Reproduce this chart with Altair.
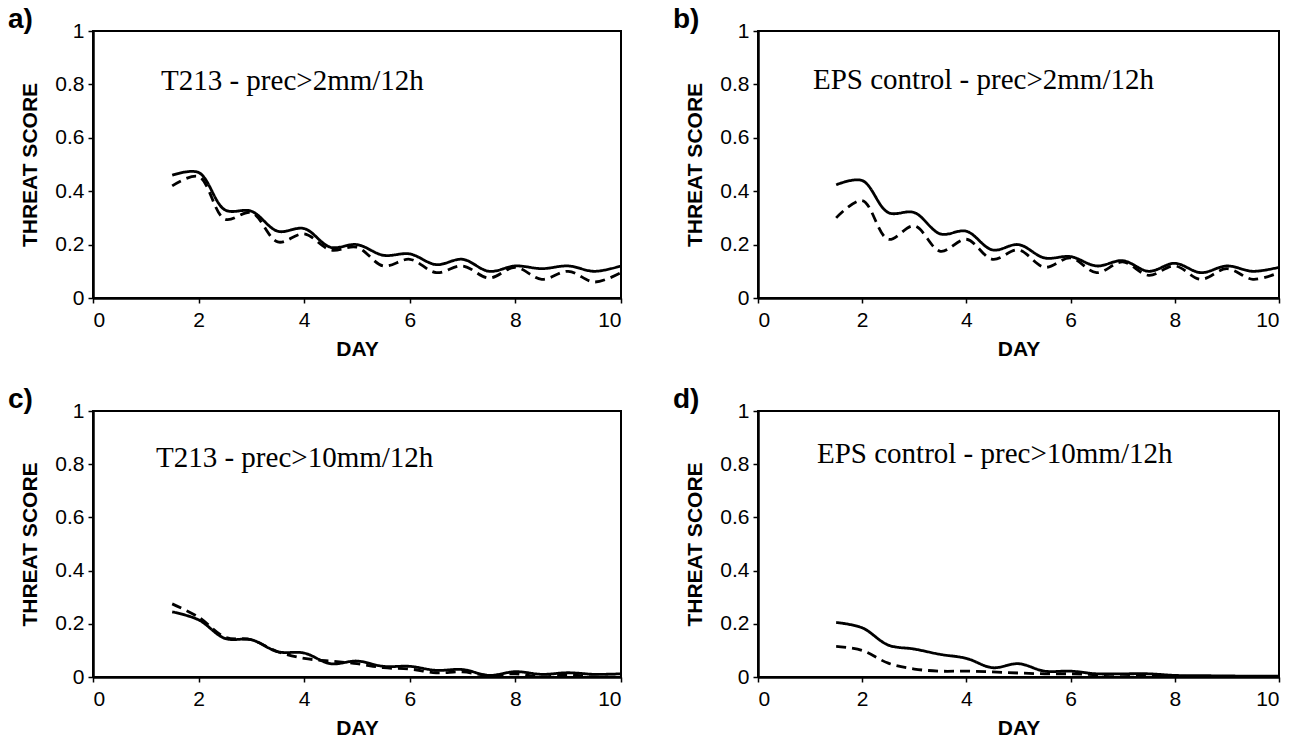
import altair as alt
import pandas as pd

# ---- data ----
days = [1.5, 2.0, 2.5, 3.0, 3.5, 4.0, 4.5, 5.0, 5.5, 6.0, 6.5, 7.0, 7.5, 8.0, 8.5, 9.0, 9.5, 10.0]

a_solid = [0.46, 0.47, 0.33, 0.325, 0.25, 0.26, 0.19, 0.20, 0.16, 0.165, 0.125, 0.145, 0.10, 0.12, 0.11, 0.12, 0.10, 0.12]
a_dashed = [0.42, 0.455, 0.295, 0.32, 0.21, 0.24, 0.18, 0.19, 0.12, 0.145, 0.095, 0.12, 0.075, 0.115, 0.07, 0.10, 0.06, 0.095]

b_solid = [0.424, 0.44, 0.32, 0.32, 0.24, 0.25, 0.18, 0.20, 0.15, 0.155, 0.12, 0.14, 0.10, 0.13, 0.095, 0.12, 0.10, 0.115]
b_dashed = [0.30, 0.365, 0.22, 0.27, 0.175, 0.22, 0.145, 0.18, 0.115, 0.15, 0.095, 0.135, 0.085, 0.12, 0.07, 0.11, 0.07, 0.095]

c_solid = [0.245, 0.215, 0.145, 0.14, 0.095, 0.09, 0.05, 0.06, 0.04, 0.04, 0.025, 0.028, 0.006, 0.02, 0.01, 0.016, 0.01, 0.012]
c_dashed = [0.275, 0.225, 0.15, 0.14, 0.095, 0.07, 0.06, 0.05, 0.035, 0.03, 0.016, 0.019, 0.006, 0.012, 0.0, 0.008, 0.0, 0.0]

d_solid = [0.205, 0.185, 0.12, 0.105, 0.085, 0.07, 0.035, 0.05, 0.022, 0.022, 0.012, 0.012, 0.012, 0.006, 0.005, 0.004, 0.003, 0.003]
d_dashed = [0.115, 0.10, 0.052, 0.03, 0.022, 0.022, 0.019, 0.015, 0.012, 0.012, 0.009, 0.01, 0.006, 0.0, 0.0, 0.0, 0.0, 0.0]

panel_labels = ["a)", "b)", "c)", "d)"]
annotations = [
    "T213 - prec>2mm/12h",
    "EPS control - prec>2mm/12h",
    "T213 - prec>10mm/12h",
    "EPS control - prec>10mm/12h",
]
x_ticks = [0, 2, 4, 6, 8, 10]
y_ticks = [0, 0.2, 0.4, 0.6, 0.8, 1]
series_names = ["solid", "dashed"]

SANS = "Liberation Sans"
SERIF = "Liberation Serif"


def panel(solid, dashed, label, note, w, h, note_x, note_y):
    df = pd.DataFrame({"day": days, "solid": solid, "dashed": dashed})
    x = alt.X(
        "day:Q",
        scale=alt.Scale(domain=[0, 10], nice=False, zero=False),
        axis=alt.Axis(values=x_ticks, title="DAY", format="~r"),
    )
    y = alt.Y(
        "score:Q",
        scale=alt.Scale(domain=[0, 1], nice=False),
        axis=alt.Axis(values=y_ticks, title="THREAT SCORE", format="~r"),
    )
    lines = (
        alt.Chart(df)
        .transform_fold(series_names, as_=["series", "score"])
        .mark_line(color="black", strokeWidth=2.8, interpolate="catmull-rom", clip=True)
        .encode(
            x=x,
            y=y,
            strokeDash=alt.StrokeDash(
                "series:N",
                scale=alt.Scale(domain=series_names, range=[[1, 0], [10, 6]]),
                legend=None,
            ),
        )
    )
    lab = (
        alt.Chart(pd.DataFrame({"t": [label]}))
        .mark_text(font=SANS, fontSize=28, fontWeight="bold", align="left", baseline="alphabetic", color="black")
        .encode(text="t:N", x=alt.value(-85), y=alt.value(-3))
    )
    txt = (
        alt.Chart(pd.DataFrame({"t": [note]}))
        .mark_text(font=SERIF, fontSize=29, align="left", baseline="middle", color="black")
        .encode(text="t:N", x=alt.value(note_x), y=alt.value(note_y))
    )
    return alt.layer(lines, lab, txt).properties(width=w, height=h)


pa = panel(a_solid, a_dashed, panel_labels[0], annotations[0], 528, 267, 68, 50)
pb = panel(b_solid, b_dashed, panel_labels[1], annotations[1], 521, 267, 55, 49)
pc = panel(c_solid, c_dashed, panel_labels[2], annotations[2], 528, 266, 63, 47)
pd_ = panel(d_solid, d_dashed, panel_labels[3], annotations[3], 521, 266, 59, 43)

chart = (
    alt.concat(pa, pb, pc, pd_, columns=2, spacing={"row": 113, "column": 137}, bounds="flush")
    .properties(padding={"left": 7, "top": 5, "right": 0, "bottom": 0}, background="white")
    .configure_view(stroke="black", strokeWidth=2)
    .configure_axis(
        grid=False,
        domainColor="black",
        domainWidth=2.5,
        tickColor="black",
        tickSize=5,
        tickWidth=1.5,
        labelFont=SANS,
        labelFontSize=21,
        labelColor="black",
        titleFont=SANS,
        titleFontSize=21,
        titleFontWeight="bold",
        titleColor="black",
    )
    .configure_axisX(labelPadding=6, titlePadding=8)
    .configure_axisY(labelPadding=4, titlePadding=14)
)

chart.save("out.html", embed_options={"renderer": "svg", "actions": False})
